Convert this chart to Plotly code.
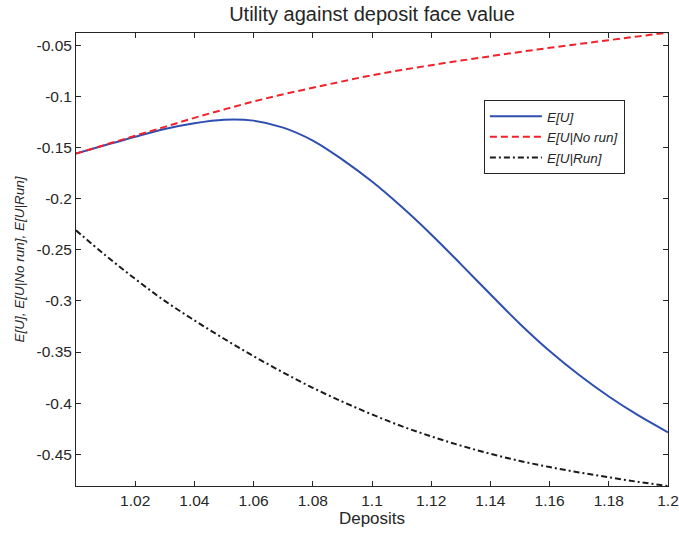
import plotly.graph_objects as go

deposits = [1.00, 1.01, 1.02, 1.03, 1.04, 1.05, 1.06, 1.07, 1.08, 1.09, 1.10,
            1.11, 1.12, 1.13, 1.14, 1.15, 1.16, 1.17, 1.18, 1.19, 1.20]

eu = [-0.1560, -0.1476, -0.1394, -0.1318, -0.1262, -0.1228, -0.1237, -0.1305,
      -0.1432, -0.1618, -0.1833, -0.2080, -0.2350, -0.2640, -0.2935, -0.3225,
      -0.3490, -0.3725, -0.3935, -0.4120, -0.4285]

eu_norun = [-0.1560, -0.1472, -0.1385, -0.1298, -0.1210, -0.1128, -0.1050,
            -0.0980, -0.0915, -0.0853, -0.0793, -0.0742, -0.0695, -0.0650,
            -0.0607, -0.0565, -0.0525, -0.0487, -0.0450, -0.0413, -0.0377]

eu_run = [-0.2310, -0.2555, -0.2785, -0.3000, -0.3190, -0.3370, -0.3540,
          -0.3700, -0.3850, -0.3985, -0.4110, -0.4225, -0.4325, -0.4415,
          -0.4495, -0.4565, -0.4625, -0.4677, -0.4725, -0.4770, -0.4810]

x_tickvals = [1.02, 1.04, 1.06, 1.08, 1.10, 1.12, 1.14, 1.16, 1.18, 1.20]
x_ticktext = ["1.02", "1.04", "1.06", "1.08", "1.1", "1.12", "1.14", "1.16", "1.18", "1.2"]
y_tickvals = [-0.45, -0.40, -0.35, -0.30, -0.25, -0.20, -0.15, -0.10, -0.05]
y_ticktext = ["-0.45", "-0.4", "-0.35", "-0.3", "-0.25", "-0.2", "-0.15", "-0.1", "-0.05"]

FONT = "Liberation Sans, Arial, sans-serif"
TXT = "#262626"

fig = go.Figure()
fig.add_trace(go.Scatter(x=deposits, y=eu, mode="lines", name="<i>E[U]</i>",
                         line=dict(color="#2f4fb0", width=2, shape="spline")))
fig.add_trace(go.Scatter(x=deposits, y=eu_norun, mode="lines", name="<i>E[U|No run]</i>",
                         line=dict(color="#f0222a", width=2, dash="7px,4px", shape="spline")))
fig.add_trace(go.Scatter(x=deposits, y=eu_run, mode="lines", name="<i>E[U|Run]</i>",
                         line=dict(color="#1a1a1a", width=2, dash="6px,3px,2px,3px", shape="spline")))

axis_common = dict(showline=True, linecolor=TXT, linewidth=1, mirror="allticks",
                   ticks="inside", ticklen=5, tickcolor=TXT, tickwidth=1,
                   showgrid=False, zeroline=False, automargin=False,
                   tickfont=dict(family=FONT, size=15.5, color=TXT))

fig.update_layout(
    width=679, height=535,
    margin=dict(l=76, r=11, t=33, b=49),
    paper_bgcolor="white", plot_bgcolor="white",
    title=dict(text="Utility against deposit face value", x=0.5, xanchor="center",
               xref="paper", y=0.974, yanchor="middle",
               font=dict(family=FONT, size=20, color=TXT)),
    xaxis=dict(range=[1.0, 1.2], tickvals=x_tickvals, ticktext=x_ticktext,
               title=dict(text="Deposits", font=dict(family=FONT, size=17, color=TXT),
                          standoff=4),
               **axis_common),
    yaxis=dict(range=[-0.481, -0.038], tickvals=y_tickvals, ticktext=y_ticktext,
               title=dict(text="<i>E[U], E[U|No run], E[U|Run]</i>",
                          font=dict(family=FONT, size=13.5, color=TXT), standoff=8),
               **axis_common),
    legend=dict(x=0.689, y=0.852, xanchor="left", yanchor="top",
                bordercolor=TXT, borderwidth=1, bgcolor="white",
                font=dict(family=FONT, size=13.5, color=TXT),
                itemwidth=52, tracegroupgap=0),
    showlegend=True,
)

fig.write_html("out.html", config={"displayModeBar": False},
               post_script="document.body.style.margin='0';")
